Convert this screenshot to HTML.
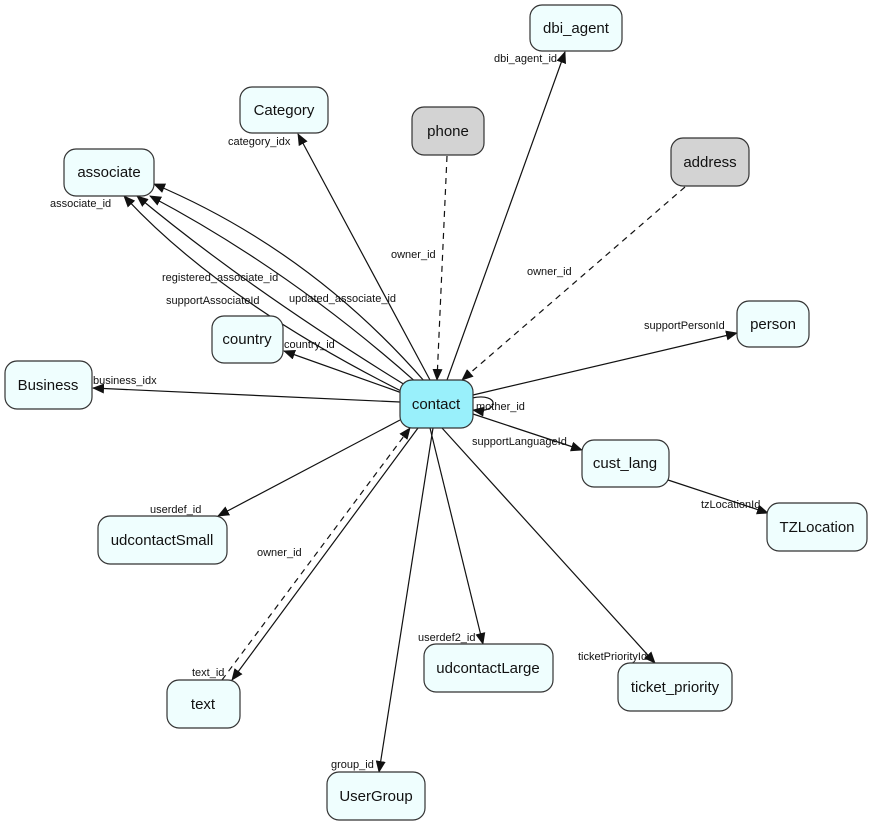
<!DOCTYPE html>
<html><head><meta charset="utf-8"><style>
html,body{margin:0;padding:0;background:#fff;}
svg{display:block;font-family:"Liberation Sans",Arial,sans-serif;}
.n{fill:#effefe;stroke:#333;stroke-width:1.2;}
.g{fill:#d3d3d3;stroke:#333;stroke-width:1.2;}
.c{fill:#99f0fb;stroke:#333;stroke-width:1.2;}
.t{font-size:15px;text-anchor:middle;fill:#111;}
.l{font-size:11px;fill:#111;}
.e{stroke:#111;stroke-width:1.2;fill:none;}
.d{stroke:#111;stroke-width:1.2;fill:none;stroke-dasharray:6,5;}
</style></head><body>
<svg width="873" height="825" viewBox="0 0 873 825">
<defs><marker id="a" markerWidth="12" markerHeight="10" refX="11" refY="5" orient="auto" markerUnits="userSpaceOnUse"><path d="M0,0 L12,5 L0,10 z" fill="#111"/></marker></defs>
<!-- edges -->
<line class="e" x1="447" y1="380" x2="565" y2="52" marker-end="url(#a)"/>
<line class="e" x1="430" y1="380" x2="298" y2="134" marker-end="url(#a)"/>
<line class="d" x1="447" y1="156" x2="437" y2="380" marker-end="url(#a)"/>
<line class="d" x1="685" y1="187" x2="462" y2="380" marker-end="url(#a)"/>
<path class="e" d="M425,382 Q310,250 154,184" marker-end="url(#a)"/>
<path class="e" d="M418,384 Q290,270 150,196" marker-end="url(#a)"/>
<path class="e" d="M410,388 Q250,290 137,196" marker-end="url(#a)"/>
<path class="e" d="M403,392 Q220,300 124,196" marker-end="url(#a)"/>
<line class="e" x1="402" y1="393" x2="284" y2="351" marker-end="url(#a)"/>
<line class="e" x1="400" y1="402" x2="93" y2="388" marker-end="url(#a)"/>
<line class="e" x1="473" y1="395" x2="737" y2="333" marker-end="url(#a)"/>
<path class="e" d="M472,398 C500,392 500,414 473,410" marker-end="url(#a)"/>
<line class="e" x1="473" y1="414" x2="582" y2="450" marker-end="url(#a)"/>
<line class="e" x1="668" y1="480" x2="768" y2="513" marker-end="url(#a)"/>
<line class="e" x1="400" y1="420" x2="218" y2="516" marker-end="url(#a)"/>
<line class="e" x1="418" y1="428" x2="232" y2="680" marker-end="url(#a)"/>
<line class="d" x1="222" y1="680" x2="410" y2="428" marker-end="url(#a)"/>
<line class="e" x1="430" y1="428" x2="483" y2="644" marker-end="url(#a)"/>
<line class="e" x1="442" y1="428" x2="655" y2="663" marker-end="url(#a)"/>
<line class="e" x1="433" y1="428" x2="379" y2="772" marker-end="url(#a)"/>
<!-- nodes -->
<rect class="n" x="530" y="5" width="92" height="46" rx="12"/><text class="t" x="576" y="33">dbi_agent</text>
<rect class="n" x="240" y="87" width="88" height="46" rx="12"/><text class="t" x="284" y="115">Category</text>
<rect class="g" x="412" y="107" width="72" height="48" rx="12"/><text class="t" x="448" y="136">phone</text>
<rect class="g" x="671" y="138" width="78" height="48" rx="12"/><text class="t" x="710" y="167">address</text>
<rect class="n" x="64" y="149" width="90" height="47" rx="12"/><text class="t" x="109" y="177">associate</text>
<rect class="n" x="737" y="301" width="72" height="46" rx="12"/><text class="t" x="773" y="329">person</text>
<rect class="n" x="212" y="316" width="71" height="47" rx="12"/><text class="t" x="247" y="344">country</text>
<rect class="n" x="5" y="361" width="87" height="48" rx="12"/><text class="t" x="48" y="390">Business</text>
<rect class="c" x="400" y="380" width="73" height="48" rx="12"/><text class="t" x="436" y="409">contact</text>
<rect class="n" x="582" y="440" width="87" height="47" rx="12"/><text class="t" x="625" y="468">cust_lang</text>
<rect class="n" x="767" y="503" width="100" height="48" rx="12"/><text class="t" x="817" y="532">TZLocation</text>
<rect class="n" x="98" y="516" width="129" height="48" rx="12"/><text class="t" x="162" y="545">udcontactSmall</text>
<rect class="n" x="167" y="680" width="73" height="48" rx="12"/><text class="t" x="203" y="709">text</text>
<rect class="n" x="424" y="644" width="129" height="48" rx="12"/><text class="t" x="488" y="673">udcontactLarge</text>
<rect class="n" x="618" y="663" width="114" height="48" rx="12"/><text class="t" x="675" y="692">ticket_priority</text>
<rect class="n" x="327" y="772" width="98" height="48" rx="12"/><text class="t" x="376" y="801">UserGroup</text>
<!-- labels -->
<text class="l" x="494" y="62">dbi_agent_id</text>
<text class="l" x="228" y="145">category_idx</text>
<text class="l" x="391" y="258">owner_id</text>
<text class="l" x="527" y="275">owner_id</text>
<text class="l" x="50" y="207">associate_id</text>
<text class="l" x="162" y="281">registered_associate_id</text>
<text class="l" x="166" y="304">supportAssociateId</text>
<text class="l" x="289" y="302">updated_associate_id</text>
<text class="l" x="284" y="348">country_id</text>
<text class="l" x="93" y="384">business_idx</text>
<text class="l" x="644" y="329">supportPersonId</text>
<text class="l" x="476" y="410">mother_id</text>
<text class="l" x="472" y="445">supportLanguageId</text>
<text class="l" x="701" y="508">tzLocationId</text>
<text class="l" x="150" y="513">userdef_id</text>
<text class="l" x="257" y="556">owner_id</text>
<text class="l" x="192" y="676">text_id</text>
<text class="l" x="418" y="641">userdef2_id</text>
<text class="l" x="578" y="660">ticketPriorityId</text>
<text class="l" x="331" y="768">group_id</text>
</svg>
</body></html>
